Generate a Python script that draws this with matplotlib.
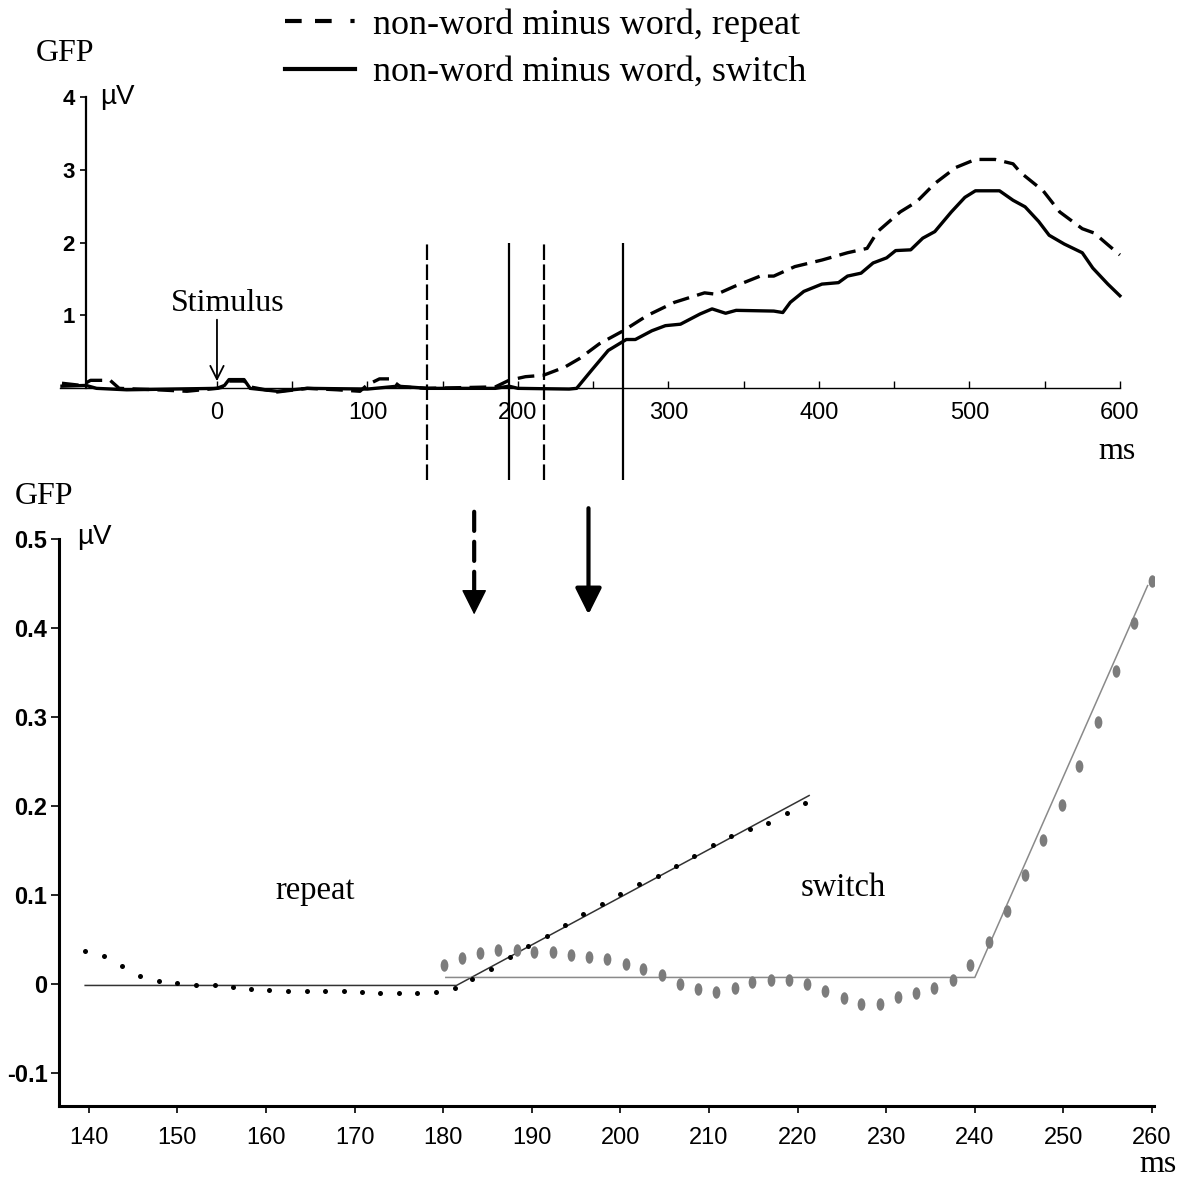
import numpy as np
import matplotlib
matplotlib.use("Agg")
import matplotlib.pyplot as plt
from matplotlib.lines import Line2D
from matplotlib.path import Path
from matplotlib.transforms import Affine2D

# ---- top panel: GFP of the difference waves (ms, microvolt) ----
rep_top_t = [-103, -90, -84, -71, -65, -40, -20, 0, 5, 8, 18, 22, 40, 60, 80, 95, 100, 108, 115, 122,
             140, 185, 194, 205, 217, 231, 241, 254, 270, 286, 304, 324, 332, 344, 361, 370, 384, 402,
             419, 432, 439, 454, 465, 477, 491, 504, 517, 529, 534, 549, 560, 575, 583, 592, 600]
rep_top_v = [0.07, 0.04, 0.11, 0.11, 0.0, -0.02, -0.04, 0.0, 0.02, 0.1, 0.1, 0.02, -0.05, 0.0, -0.02,
             -0.04, 0.05, 0.13, 0.13, 0.02, 0.0, 0.02, 0.11, 0.16, 0.18, 0.29, 0.41, 0.61, 0.79, 1.0,
             1.18, 1.31, 1.29, 1.40, 1.54, 1.54, 1.67, 1.76, 1.86, 1.92, 2.15, 2.42, 2.56, 2.81, 3.03,
             3.14, 3.14, 3.08, 2.96, 2.71, 2.42, 2.19, 2.13, 1.97, 1.83]
sw_top_t = [-103, -87, -80, -60, -30, 0, 5, 8, 18, 22, 40, 60, 100, 120, 140, 185, 194, 200, 234, 239,
            249, 260, 272, 278, 289, 298, 308, 321, 329, 338, 345, 370, 376, 381, 390, 402, 413, 419,
            428, 436, 445, 451, 461, 469, 477, 488, 497, 504, 520, 529, 537, 546, 553, 563, 575, 582,
            592, 600]
sw_top_v = [0.03, 0.04, 0.0, -0.02, -0.01, 0.0, 0.04, 0.12, 0.12, 0.0, -0.04, 0.0, -0.01, 0.03, 0.0,
            0.0, 0.03, 0.0, -0.01, 0.0, 0.25, 0.52, 0.67, 0.67, 0.79, 0.86, 0.88, 1.02, 1.09, 1.03,
            1.07, 1.06, 1.04, 1.18, 1.33, 1.43, 1.45, 1.54, 1.58, 1.72, 1.79, 1.89, 1.90, 2.06, 2.15,
            2.42, 2.62, 2.71, 2.71, 2.58, 2.49, 2.29, 2.10, 1.98, 1.86, 1.65, 1.43, 1.27]
rep_marks = [139.4, 217]   # dashed vertical markers
sw_marks = [194, 270]      # solid vertical markers
top_xticks = [0, 100, 200, 300, 400, 500, 600]
top_yticks = [1, 2, 3, 4]

# ---- bottom panel: zoomed onset with fitted broken lines ----
rep_t = [139.6, 141.7, 143.8, 145.8, 147.9, 150.0, 152.1, 154.2, 156.3, 158.3, 160.4, 162.5, 164.6,
         166.7, 168.8, 170.8, 172.9, 175.0, 177.1, 179.2, 181.3, 183.3, 185.4, 187.5, 189.6, 191.7,
         193.8, 195.8, 197.9, 200.0, 202.1, 204.2, 206.3, 208.3, 210.4, 212.5, 214.6, 216.7, 218.8, 220.8]
rep_v = [0.0367, 0.0314, 0.020, 0.009, 0.003, 0.0007, -0.0007, -0.0015, -0.0034, -0.0056, -0.0067,
         -0.0075, -0.0075, -0.0075, -0.0082, -0.009, -0.0097, -0.0097, -0.0097, -0.009, -0.0045, 0.0052,
         0.0172, 0.030, 0.0426, 0.0546, 0.0666, 0.0786, 0.0906, 0.1017, 0.1128, 0.1217, 0.1324, 0.1444,
         0.156, 0.166, 0.174, 0.181, 0.192, 0.204]
sw_t = [180.1, 182.1, 184.2, 186.2, 188.3, 190.3, 192.4, 194.4, 196.5, 198.5, 200.6, 202.6, 204.7,
        206.7, 208.8, 210.8, 212.9, 214.9, 217.0, 219.0, 221.1, 223.1, 225.2, 227.2, 229.3, 231.3,
        233.4, 235.4, 237.5, 239.5, 241.6, 243.6, 245.7, 247.7, 249.8, 251.8, 253.9, 255.9, 258.0, 260.0]
sw_v = [0.021, 0.029, 0.035, 0.038, 0.038, 0.036, 0.036, 0.033, 0.030, 0.028, 0.023, 0.017, 0.0097,
        0.0004, -0.0058, -0.0085, -0.004, 0.002, 0.0048, 0.0048, 0.0004, -0.0072, -0.016, -0.022, -0.022,
        -0.0143, -0.0103, -0.004, 0.0048, 0.0217, 0.047, 0.082, 0.123, 0.162, 0.201, 0.245, 0.295,
        0.352, 0.406, 0.453]
rep_fit_t = [139.6, 181.5, 221.3]
rep_fit_v = [-0.0015, -0.0015, 0.212]
sw_fit_t = [180.3, 240.0, 259.5]
sw_fit_v = [0.0075, 0.0075, 0.448]
bot_xticks = [140, 150, 160, 170, 180, 190, 200, 210, 220, 230, 240, 250, 260]
bot_yticks = [-0.1, 0, 0.1, 0.2, 0.3, 0.4, 0.5]

SERIF = "Liberation Serif"
SANS = "Liberation Sans"
plt.rcParams["font.family"] = SANS

fig = plt.figure(figsize=(11.81, 11.83), dpi=100)

# ---------------- top panel ----------------
ax1 = fig.add_axes([0.0512, 0.6594, 0.9047, 0.2619])
ax1.plot(rep_top_t, rep_top_v, color="black", lw=2.4, ls=(0, (5, 2.5)))
ax1.plot(sw_top_t, sw_top_v, color="black", lw=2.4)
ax1.vlines(rep_marks, -1.26, 2.0, color="black", lw=1.6, ls=(0, (7, 2)), clip_on=False)
ax1.vlines(sw_marks, -1.26, 2.0, color="black", lw=1.6, clip_on=False)

ax1.set_xlim(-104, 606)
ax1.set_ylim(-0.2, 4.05)
for s in ["top", "right"]:
    ax1.spines[s].set_visible(False)
ax1.spines["left"].set_position(("data", -87))
ax1.spines["left"].set_bounds(0, 4)
ax1.spines["left"].set_linewidth(1.6)
ax1.spines["bottom"].set_position(("data", 0))
ax1.spines["bottom"].set_bounds(-104, 600)
ax1.spines["bottom"].set_linewidth(1.0)
ax1.set_xticks(top_xticks)
ax1.set_xticks([50, 150, 250, 350, 450, 550], minor=True)
ax1.set_yticks(top_yticks)
ax1.tick_params(axis="x", which="both", direction="in", length=5, width=1, pad=10, labelsize=17)
ax1.tick_params(axis="y", direction="out", length=4, width=1.2, pad=4)
for lab in ax1.get_yticklabels():
    lab.set_fontsize(16)
    lab.set_fontweight("bold")

ax1.annotate("", xy=(0, 0.06), xytext=(0, 0.98),
             arrowprops=dict(arrowstyle="->", lw=1.3, color="black", mutation_scale=24))
ax1.text(7.3, 1.17, "Stimulus", family=SERIF, fontsize=23, ha="center", va="center")
ax1.text(598, -0.87, "ms", family=SERIF, fontsize=23, ha="center", va="center")

# ---------------- bottom panel ----------------
ax2 = fig.add_axes([0.0496, 0.0651, 0.9274, 0.479])
ax2.plot(rep_fit_t, rep_fit_v, color="#333333", lw=1.1)
ax2.plot(sw_fit_t, sw_fit_v, color="#8a8a8a", lw=1.1)
ellipse = Path.unit_circle().transformed(Affine2D().scale(0.62, 1.0))
ax2.plot(sw_t, sw_v, ls="none", marker=ellipse, ms=9, color="#7c7c7c", mec="none")
ax2.plot(rep_t, rep_v, ls="none", marker="o", ms=3.6, color="black", mec="none")

ax2.set_xlim(136.6, 260.2)
ax2.set_ylim(-0.137, 0.5)
for s in ["top", "right"]:
    ax2.spines[s].set_visible(False)
for s in ["left", "bottom"]:
    ax2.spines[s].set_linewidth(2.2)
ax2.set_xticks(bot_xticks)
ax2.set_yticks(bot_yticks)
ax2.set_yticklabels(["-0.1", "0", "0.1", "0.2", "0.3", "0.4", "0.5"])
ax2.tick_params(axis="x", direction="out", length=5, width=1.2, pad=10, labelsize=17)
ax2.tick_params(axis="y", direction="out", length=6, width=1.2, pad=2)
for lab in ax2.get_yticklabels():
    lab.set_fontsize(17)
    lab.set_fontweight("bold")

ax2.text(165.5, 0.1055, "repeat", family=SERIF, fontsize=23.5, ha="center", va="center")
ax2.text(225.1, 0.108, "switch", family=SERIF, fontsize=23.5, ha="center", va="center")
ax2.text(260.7, -0.203, "ms", family=SERIF, fontsize=23, ha="center", va="center", clip_on=False)

# arrows between the panels: dashed shaft + solid head for the repeat arrow
ax2.annotate("", xy=(183.5, 0.44), xytext=(183.5, 0.531), annotation_clip=False,
             arrowprops=dict(arrowstyle="-", lw=3, ls=(0, (4.6, 2.6)), color="black",
                             shrinkA=0, shrinkB=0))
ax2.annotate("", xy=(183.5, 0.4155), xytext=(183.5, 0.447), annotation_clip=False,
             arrowprops=dict(arrowstyle="-|>", lw=1, color="black",
                             mutation_scale=40, shrinkA=0, shrinkB=0))
ax2.annotate("", xy=(196.4, 0.4155), xytext=(196.4, 0.535), annotation_clip=False,
             arrowprops=dict(arrowstyle="-|>", lw=3, color="black",
                             mutation_scale=40, shrinkA=0, shrinkB=0))

# axis captions
fig.text(0.055, 0.955, "GFP", family=SERIF, fontsize=23, ha="center", va="center")
fig.text(0.037, 0.580, "GFP", family=SERIF, fontsize=23, ha="center", va="center")
fig.text(0.099, 0.918, "µV", fontsize=20, ha="center", va="center")
fig.text(0.0796, 0.546, "µV", fontsize=20, ha="center", va="center")

# legend
handles = [Line2D([], [], color="black", lw=3, ls=(0, (4, 3.2, 4, 4.5, 1, 10))),
           Line2D([], [], color="black", lw=3)]
fig.legend(handles, ["non-word minus word, repeat", "non-word minus word, switch"],
           loc="upper left", bbox_to_anchor=(0.241, 0.993), frameon=False,
           prop={"family": SERIF, "size": 26}, handlelength=1.95, handletextpad=0.5,
           labelspacing=0.39, borderpad=0, borderaxespad=0)

fig.savefig("out.png", dpi=100)
